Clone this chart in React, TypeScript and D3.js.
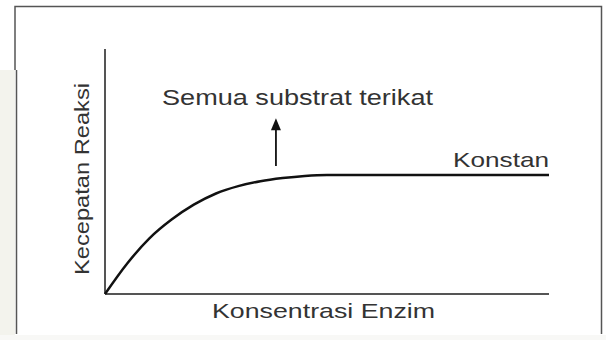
import React from "react";
import * as d3 from "d3";

// enzyme concentration (x) vs reaction rate (y), arbitrary units 0..10
const konsentrasi = [0, 0.5, 1, 1.5, 2, 2.5, 3, 3.5, 4, 4.5, 5, 6, 7, 8, 9, 10];
const kecepatan = [0, 1.25, 2.28, 3.05, 3.66, 4.12, 4.42, 4.62, 4.75, 4.84, 4.88, 4.88, 4.88, 4.88, 4.88, 4.88];

const labelX = "Konsentrasi Enzim";
const labelY = "Kecepatan Reaksi";
const annotTop = "Semua substrat terikat";
const annotRight = "Konstan";
// arrow in data units: x, from y, to y
const arrowX = 3.85;
const arrowFrom = 5.25;
const arrowTo = 7.2;

const W = 606;
const H = 340;

const App = () => {
  const x = d3.scaleLinear().domain([0, 10]).range([105, 549]);
  const y = d3.scaleLinear().domain([0, 10]).range([294, 50]);

  const points: [number, number][] = konsentrasi.map((k, i) => [k, kecepatan[i]]);
  const line = d3
    .line<[number, number]>()
    .x((d) => x(d[0]))
    .y((d) => y(d[1]))
    .curve(d3.curveMonotoneX);

  const font = "'Liberation Sans', Arial, sans-serif";
  const last = points[points.length - 1];

  const ax = x(arrowX);
  const tipY = y(arrowTo);
  const headLen = 12;
  const headHalf = 5;

  return (
    <svg
      width={W}
      height={H}
      style={{ position: "absolute", left: 0, top: 0, background: "#fff" }}
    >
      {/* page edges */}
      <rect x={0} y={70} width={15} height={H - 70} fill="#f3f3ed" />
      <rect x={0} y={335} width={W} height={5} fill="#f8f8f6" />
      {/* frame */}
      <path d="M15,70 L15,6.5 L601.5,6.5 L601.5,334" fill="none" stroke="#555" strokeWidth={1.5} />
      <line x1={16.5} y1={70} x2={16.5} y2={334} stroke="#555" strokeWidth={1.5} />

      {/* axes */}
      <line x1={x(0)} y1={y(0)} x2={x(0)} y2={y(10) - 1} stroke="#555" strokeWidth={2} />
      <line x1={x(0)} y1={y(0)} x2={x(10)} y2={y(0)} stroke="#555" strokeWidth={2} />

      {/* curve */}
      <path d={line(points) ?? ""} fill="none" stroke="#111" strokeWidth={2.5} />

      {/* arrow */}
      <line x1={ax} y1={y(arrowFrom)} x2={ax} y2={tipY + headLen - 1} stroke="#111" strokeWidth={1.8} />
      <path
        d={`M${ax},${tipY} L${ax + headHalf},${tipY + headLen} L${ax - headHalf},${tipY + headLen} Z`}
        fill="#111"
      />

      <text
        x={162}
        y={105}
        fontFamily={font}
        fontSize={22}
        fill="#333"
        textLength={271}
        lengthAdjust="spacingAndGlyphs"
      >
        {annotTop}
      </text>
      <text
        x={x(last[0])}
        y={y(last[1]) - 8}
        textAnchor="end"
        fontFamily={font}
        fontSize={21}
        fill="#333"
        textLength={96}
        lengthAdjust="spacingAndGlyphs"
      >
        {annotRight}
      </text>
      <text
        x={212}
        y={318}
        fontFamily={font}
        fontSize={21}
        fill="#333"
        textLength={223}
        lengthAdjust="spacingAndGlyphs"
      >
        {labelX}
      </text>
      <text
        transform="translate(89,275) rotate(-90)"
        x={0}
        y={0}
        fontFamily={font}
        fontSize={21}
        fill="#333"
        textLength={192}
        lengthAdjust="spacingAndGlyphs"
      >
        {labelY}
      </text>
    </svg>
  );
};

export default App;
